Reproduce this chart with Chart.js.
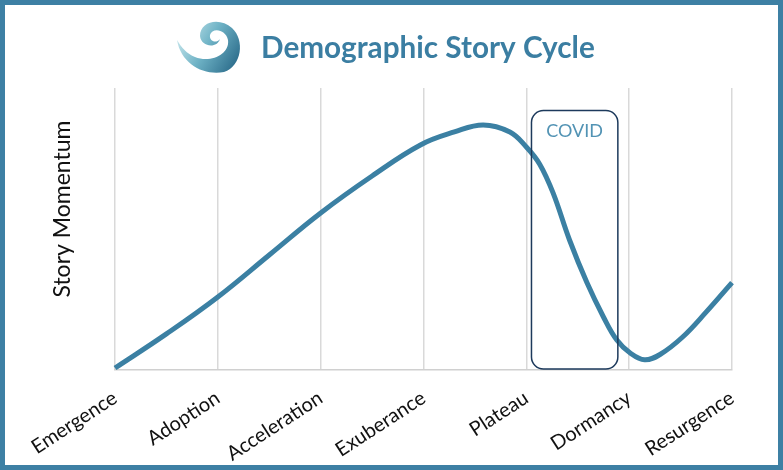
<!DOCTYPE html>
<html>
<head>
<meta charset="utf-8">
<script src="https://cdn.jsdelivr.net/npm/chart.js@4.4.0/dist/chart.umd.min.js"></script>
<style>
  body { margin: 0; background: #fff; }
  #wrap { position: relative; width: 783px; height: 470px; }
  #frame {
    position: absolute; left: 0; top: 0; width: 783px; height: 470px;
    border: 5px solid #3d80a4; box-sizing: border-box; pointer-events: none;
  }
</style>
</head>
<body>
<div id="wrap">
  <canvas id="myChart" width="783" height="470"></canvas>
  <div id="frame"></div>
</div>
<script>
// stage names on the x axis
const stages = ['Emergence', 'Adoption', 'Acceleration', 'Exuberance', 'Plateau', 'Dormancy', 'Resurgence'];

// story momentum curve (x in stage units, y 0-100)
const curveX = [0, 0.5, 1, 1.5, 2, 2.5, 2.97, 3.3, 3.58, 3.84, 4.0, 4.13, 4.26, 4.42, 4.59, 4.75, 4.88, 5.01, 5.15, 5.3, 5.52, 5.75, 6];
const curveY = [0.7, 12.8, 25.9, 40.8, 55.7, 68.8, 79.8, 84.4, 86.9, 84.4, 79.1, 73.0, 62.8, 46.1, 30.9, 18.8, 10.6, 6.0, 3.6, 5.5, 11.7, 20.6, 31];

// COVID window
const covidRange = [4.05, 4.89];
const covidTop = 92;
const covidLabel = 'COVID';

const chartTitle = 'Demographic Story Cycle';
const yTitle = 'Story Momentum';

const points = curveX.map((x, i) => ({ x: x, y: curveY[i] }));

const extras = {
    id: 'extras',
    afterDatasetsDraw(chart) {
        const ctx = chart.ctx;
        const sx = chart.scales.x;
        const sy = chart.scales.y;

        // covid box
        const x1 = sx.getPixelForValue(covidRange[0]);
        const x2 = sx.getPixelForValue(covidRange[1]);
        const y1 = sy.getPixelForValue(covidTop);
        const y2 = sy.getPixelForValue(0) - 1;
        ctx.save();
        ctx.strokeStyle = '#1d3a5c';
        ctx.lineWidth = 1.5;
        ctx.beginPath();
        ctx.roundRect(x1, y1, x2 - x1, y2 - y1, 12);
        ctx.stroke();
        ctx.fillStyle = '#5293b4';
        ctx.font = '18px Lato';
        ctx.textAlign = 'center';
        ctx.textBaseline = 'middle';
        ctx.fillText(covidLabel, (x1 + x2) / 2, y1 + 21);
        ctx.restore();
    },
    afterDraw(chart) {
        const ctx = chart.ctx;
        ctx.save();

        // title, sized to the width it has in the picture
        ctx.fillStyle = '#3b7ea2';
        ctx.font = 'bold 26px Lato';
        const w = ctx.measureText(chartTitle).width;
        ctx.font = 'bold ' + (26 * 334 / w).toFixed(1) + 'px Lato';
        ctx.textAlign = 'left';
        ctx.textBaseline = 'alphabetic';
        ctx.fillText(chartTitle, 261, 58);

        // y axis title
        ctx.fillStyle = '#111';
        ctx.font = '23px Lato';
        ctx.translate(63, 209);
        ctx.rotate(-Math.PI / 2);
        ctx.textAlign = 'center';
        ctx.textBaseline = 'middle';
        ctx.fillText(yTitle, 0, 0);
        ctx.restore();

        // wave logo
        ctx.save();
        const g = ctx.createLinearGradient(176, 30, 242, 70);
        g.addColorStop(0, '#d4eef2');
        g.addColorStop(0.45, '#6fb3c6');
        g.addColorStop(1, '#1f5f80');
        ctx.fillStyle = g;
        ctx.beginPath();
        ctx.moveTo(177, 40);
        ctx.bezierCurveTo(181, 64, 204, 76, 224, 72);
        ctx.bezierCurveTo(242, 66, 245, 40, 232, 28);
        ctx.bezierCurveTo(220, 17, 200, 21, 200, 36);
        ctx.bezierCurveTo(201, 47, 217, 49, 220, 39);
        ctx.bezierCurveTo(216, 44, 209, 41, 210, 35);
        ctx.bezierCurveTo(212, 27, 226, 29, 228, 40);
        ctx.bezierCurveTo(230, 55, 210, 63, 195, 57);
        ctx.bezierCurveTo(187, 54, 181, 47, 177, 40);
        ctx.closePath();
        ctx.fill();
        ctx.restore();
    }
};

const ctx = document.getElementById('myChart').getContext('2d');
const myChart = new Chart(ctx, {
    type: 'line',
    data: {
        datasets: [{
            data: points,
            borderColor: '#3b80a3',
            borderWidth: 5,
            pointRadius: 0,
            fill: false,
            tension: 0.4,
            clip: false
        }]
    },
    options: {
        responsive: false,
        animation: false,
        layout: { padding: { top: 88, right: 51, left: 0, bottom: 0 } },
        plugins: {
            legend: { display: false },
            tooltip: { enabled: false }
        },
        scales: {
            x: {
                type: 'linear',
                min: 0,
                max: 6,
                afterFit(scale) { scale.height = 100; },
                grid: { color: '#d9d9d9', lineWidth: 1.5, drawTicks: false },
                border: { color: '#d0d0d0', width: 1.5 },
                ticks: {
                    stepSize: 1,
                    autoSkip: false,
                    minRotation: 33,
                    maxRotation: 33,
                    padding: 16,
                    color: '#111',
                    font: { family: 'Lato', size: 20 },
                    callback: v => stages[v]
                }
            },
            y: {
                min: 0,
                max: 100,
                afterFit(scale) { scale.width = 115; },
                grid: { display: false },
                border: { display: false },
                ticks: { display: false }
            }
        }
    },
    plugins: [extras]
});
</script>
</body>
</html>
